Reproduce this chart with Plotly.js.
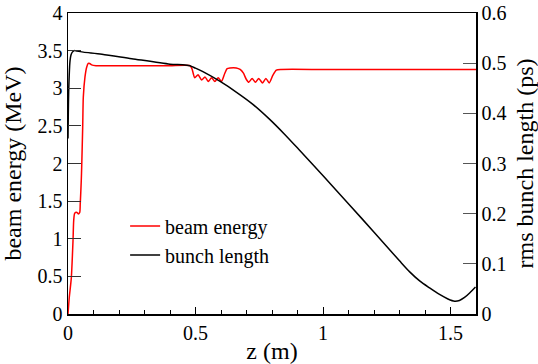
<!DOCTYPE html>
<html><head><meta charset="utf-8">
<script src="https://cdn.plot.ly/plotly-3.0.1.min.js"></script>
<style>
body{margin:0;background:#fff;font-family:'Liberation Serif',serif}
#chart{width:538px;height:364px}
#warm{position:absolute;left:0;top:0;color:#fff;font-family:'Liberation Serif';font-size:20px;z-index:-1}
</style>
</head><body><span id="warm">beam energy 0.5</span><div id="chart"></div>
<script>
// beam energy (MeV) vs z (m)
const energyZ = [0, 0.005, 0.013, 0.0196, 0.0223, 0.0263, 0.035, 0.040, 0.046, 0.048, 0.052, 0.0537, 0.0576, 0.060, 0.0666, 0.0732, 0.0795, 0.085, 0.0928, 0.11, 0.2, 0.3, 0.4, 0.478,
  0.486, 0.497, 0.510, 0.524, 0.537, 0.550, 0.563, 0.576, 0.589, 0.602, 0.615, 0.624, 0.635, 0.66, 0.675, 0.688, 0.699,
  0.709, 0.722, 0.735, 0.748, 0.763, 0.776, 0.789, 0.803, 0.817, 0.835, 1.0, 1.2, 1.4, 1.6];
const energyMeV = [0, 0.22, 0.48, 0.97, 1.24, 1.34, 1.35, 1.33, 1.35, 1.46, 1.77, 1.95, 2.48, 2.88, 3.15, 3.28, 3.33, 3.33, 3.31, 3.30, 3.30, 3.30, 3.30, 3.30,
  3.26, 3.14, 3.18, 3.11, 3.15, 3.09, 3.14, 3.09, 3.14, 3.09, 3.20, 3.26, 3.27, 3.27, 3.25, 3.20, 3.12,
  3.08, 3.13, 3.08, 3.13, 3.07, 3.13, 3.07, 3.17, 3.24, 3.25, 3.25, 3.25, 3.25, 3.25];
// rms bunch length (ps) vs z (m)
const lengthZ = [0, 0.003, 0.008, 0.012, 0.017, 0.025, 0.035, 0.06, 0.133, 0.25, 0.4, 0.45, 0.478, 0.50, 0.529, 0.595, 0.661, 0.725, 0.791, 0.85, 0.909, 1.003, 1.105, 1.202, 1.30, 1.34, 1.379, 1.418, 1.457, 1.49, 1.516, 1.535, 1.555, 1.575, 1.598];
const lengthPs = [0.35, 0.45, 0.505, 0.517, 0.522, 0.525, 0.524, 0.522, 0.518, 0.509, 0.498, 0.497, 0.495, 0.490, 0.483, 0.464, 0.442, 0.418, 0.388, 0.358, 0.326, 0.274, 0.217, 0.162, 0.106, 0.084, 0.066, 0.052, 0.039, 0.030, 0.0255, 0.027, 0.033, 0.042, 0.054];

const traces = [
  {x: energyZ, y: energyMeV, name: 'beam energy', type: 'scatter', mode: 'lines',
   line: {color: '#ff0000', width: 1.5, shape: 'spline', smoothing: 0.6}, yaxis: 'y'},
  {x: lengthZ, y: lengthPs, name: 'bunch length', type: 'scatter', mode: 'lines',
   line: {color: '#000000', width: 1.5, shape: 'spline', smoothing: 0.8}, yaxis: 'y2'}
];
const layout = {
  width: 538, height: 364,
  margin: {l: 68, r: 62, t: 13, b: 50},
  paper_bgcolor: '#fff', plot_bgcolor: '#fff',
  font: {family: 'Liberation Serif', size: 20, color: '#000'},
  showlegend: true,
  legend: {x: 0.14, y: 0.357, xanchor: 'left', yanchor: 'top', bgcolor: 'rgba(0,0,0,0)', tracegroupgap: 0},
  xaxis: {range: [0, 1.6], dtick: 0.5, tick0: 0, ticks: 'inside', ticklen: 7, tickcolor: '#000',
          showline: true, linecolor: '#000', linewidth: 1.5, mirror: true, showgrid: false, zeroline: false,
          minor: {dtick: 0.1, ticks: 'inside', ticklen: 4, tickcolor: '#000', showgrid: false},
          title: {text: 'z (m)', standoff: 4}},
  yaxis: {range: [0, 4], dtick: 0.5, ticks: 'inside', ticklen: 13, tickcolor: '#333',
          showline: true, linecolor: '#000', linewidth: 1.5, showgrid: false, zeroline: false,
          title: {text: 'beam energy (MeV)', standoff: 12}},
  yaxis2: {range: [0, 0.6], dtick: 0.1, ticks: 'inside', ticklen: 13, tickcolor: '#555',
           overlaying: 'y', side: 'right', showline: true, linecolor: '#000', linewidth: 1.5,
           showgrid: false, zeroline: false,
           title: {text: 'rms bunch length (ps)', standoff: 12}}
};
function forceSerif() {
  document.querySelectorAll('#chart svg text').forEach(t => {
    t.style.setProperty('font-family', '"Liberation Serif", "Times New Roman", serif', 'important');
    t.setAttribute('font-family', 'Liberation Serif');
  });
}
Plotly.newPlot('chart', traces, layout, {displayModeBar: false, staticPlot: true}).then(forceSerif);
if (document.fonts && document.fonts.ready) {
  document.fonts.ready.then(() => Plotly.react('chart', traces, layout, {displayModeBar: false, staticPlot: true})).then(forceSerif);
}
</script>
</body></html>
